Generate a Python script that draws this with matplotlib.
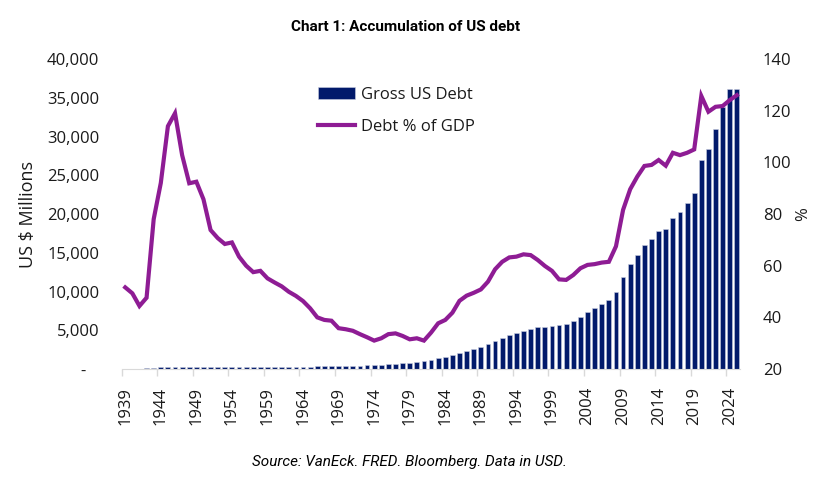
import numpy as np
import matplotlib
matplotlib.use("Agg")
import matplotlib.pyplot as plt
from matplotlib.ticker import FuncFormatter, FixedLocator

# data
years = np.arange(1939, 2026)
gross_debt = [48,
              51, 58, 79, 143, 204, 260, 271, 257, 252, 253,
              257, 255, 259, 266, 271, 274, 273, 272, 280, 287,
              291, 293, 303, 310, 316, 322, 328, 340, 369, 366,
              381, 408, 436, 466, 484, 542, 629, 706, 777, 829,
              909, 995, 1137, 1372, 1565, 1817, 2121, 2346, 2601, 2868,
              3206, 3598, 4002, 4351, 4643, 4921, 5181, 5369, 5478, 5606,
              5629, 5770, 6198, 6760, 7355, 7905, 8451, 8951, 9986, 11876,
              13529, 14764, 16051, 16719, 17794, 18120, 19539, 20206, 21462, 22669,
              26945, 28429, 30929, 33850, 36100, 36100]
debt_pct_gdp = [51.6,
                49.3, 44.4, 47.6, 78.0, 92.0, 114.0, 119.0, 102.8, 91.9, 92.5,
                85.7, 73.8, 70.7, 68.4, 69.0, 63.5, 60.0, 57.5, 58.0, 55.1,
                53.5, 52.0, 49.9, 48.3, 46.3, 43.5, 40.0, 39.0, 38.7, 35.8,
                35.4, 34.8, 33.5, 32.3, 31.0, 31.9, 33.5, 33.8, 32.8, 31.5,
                31.9, 31.0, 34.1, 37.7, 39.0, 41.8, 46.4, 48.4, 49.5, 50.8,
                53.8, 58.6, 61.5, 63.2, 63.5, 64.4, 64.1, 62.2, 59.9, 58.0,
                54.7, 54.5, 56.4, 59.0, 60.3, 60.6, 61.2, 61.5, 67.5, 81.6,
                89.6, 94.5, 98.6, 99.0, 100.9, 98.7, 103.7, 102.8, 103.7, 105.0,
                125.7, 119.6, 121.5, 121.8, 124.1, 126.0]
label_years = years[::5]

navy = '#021A6B'
purple = '#8E1C94'
txt = '#1a1a1a'

plt.rcParams['font.family'] = ['Open Sans', 'DejaVu Sans']

fig = plt.figure(figsize=(8.15, 4.79), dpi=100)
ax = fig.add_axes([0.1493, 0.2296, 0.9085 - 0.1493, 0.8768 - 0.2296])
ax2 = ax.twinx()

bars = ax.bar(years, gross_debt, width=0.68, color=navy,
              edgecolor='#c9cde0', linewidth=0.4, label='Gross US Debt', zorder=2)
line, = ax2.plot(years, debt_pct_gdp, color=purple, lw=3.0,
                 solid_joinstyle='miter', label='Debt % of GDP', zorder=3)

ax.set_xlim(years[0] - 0.5, years[-1] + 0.5)
ax.set_ylim(0, 40000)
ax2.set_ylim(20, 140)
ax.set_yticks(np.arange(0, 40001, 5000))
ax2.set_yticks(np.arange(20, 141, 20))
ax.yaxis.set_major_formatter(FuncFormatter(lambda v, p: '-   ' if v == 0 else f'{v:,.0f}'))

# labels sit on category centres, tick marks between categories
ax.set_xticks(label_years)
ax.set_xticklabels([str(y) for y in label_years], rotation=90)
ax.xaxis.set_minor_locator(FixedLocator(label_years - 0.5))
ax.tick_params(axis='x', which='major', length=0, pad=13, labelsize=12, labelcolor=txt)
ax.tick_params(axis='x', which='minor', length=5, width=1, color='#d9d9d9')
ax.tick_params(axis='y', length=0, pad=16, labelsize=12, labelcolor=txt)
ax2.tick_params(axis='y', length=0, pad=16, labelsize=12, labelcolor=txt)

for a in (ax, ax2):
    for s in ('top', 'left', 'right'):
        a.spines[s].set_visible(False)
ax2.spines['bottom'].set_visible(False)
ax.spines['bottom'].set_color('#d9d9d9')

ax.set_ylabel('US $ Millions', fontsize=13, color=txt, labelpad=7)
ax2.set_ylabel('%', fontsize=12, color=txt, labelpad=3)

ax2.legend([bars, line], ['Gross US Debt', 'Debt % of GDP'], loc='upper left',
           bbox_to_anchor=(318 / 815, 1 - 87 / 479), bbox_transform=fig.transFigure,
           frameon=False, fontsize=12, handlelength=2.2, handletextpad=0.4,
           labelspacing=0.95, borderaxespad=0, borderpad=0, labelcolor=txt)

fig.text(0.498, 1 - 27 / 479, 'Chart 1: Accumulation of US debt', ha='center', va='center',
         fontsize=11, fontweight='bold', family='Roboto', color='black')
fig.text(0.502, 1 - 462 / 479, 'Source: VanEck. FRED. Bloomberg. Data in USD.', ha='center',
         va='center', fontsize=11, style='italic', family='Roboto', color='black')

fig.savefig('out.png', dpi=100)
